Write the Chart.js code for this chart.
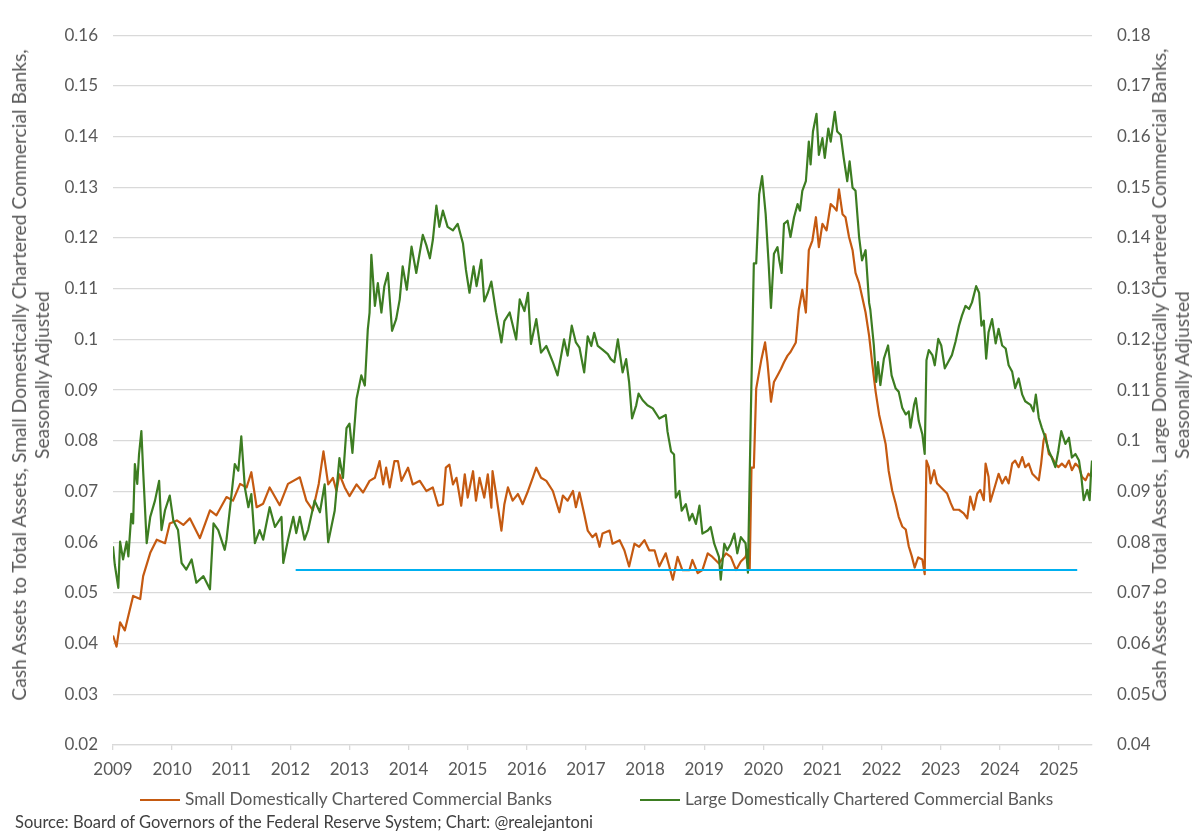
<!DOCTYPE html>
<html>
<head>
<meta charset="utf-8">
<script src="https://cdn.jsdelivr.net/npm/chart.js@4.4.1/dist/chart.umd.min.js"></script>
<style>
  html, body { margin: 0; padding: 0; background: #fff; }
  #wrap { position: relative; width: 1200px; height: 839px; font-family: Lato, "Noto Sans", sans-serif; color: #595959; }
  #c { position: absolute; left: 0; top: 0; }
  .ytitle { position: absolute; transform: translate(-50%, -50%) rotate(-90deg); white-space: nowrap; text-align: center; font-size: 19.3px; line-height: 23px; }
  .leg { position: absolute; top: 789px; height: 20px; font-size: 17.3px; line-height: 20px; white-space: nowrap; }
  .leg i { display: inline-block; width: 40px; height: 2px; vertical-align: middle; margin-right: 5px; position: relative; top: -1px; }
  #src { position: absolute; left: 15px; top: 812px; font-size: 16.5px; line-height: 20px; white-space: nowrap; color: #404040; }
</style>
</head>
<body>
<div id="wrap">
  <canvas id="c" width="1200" height="839"></canvas>
  <div class="ytitle" style="left:29.5px; top:375px;">Cash Assets to Total Assets, Small Domestically Chartered Commercial Banks,<br>Seasonally Adjusted</div>
  <div class="ytitle" style="left:1169.5px; top:375px;">Cash Assets to Total Assets, Large Domestically Chartered Commercial Banks,<br>Seasonally Adjusted</div>
  <div class="leg" style="left:140px;"><i style="background:#C55A11"></i>Small Domestically Chartered Commercial Banks</div>
  <div class="leg" style="left:640px;"><i style="background:#3D7D22"></i>Large Domestically Chartered Commercial Banks</div>
  <div id="src">Source: Board of Governors of the Federal Reserve System; Chart: @realejantoni</div>
</div>
<script>
// ----- data (x = decimal year) -----
const yearTicks = [2009, 2010, 2011, 2012, 2013, 2014, 2015, 2016, 2017, 2018, 2019, 2020, 2021, 2022, 2023, 2024, 2025];

// small domestically chartered banks, left axis
const smallBanks = [
  [2009.00,0.0416],[2009.06,0.0394],[2009.12,0.0442],[2009.20,0.0426],[2009.34,0.0494],[2009.46,0.0488],
  [2009.51,0.0533],[2009.63,0.0579],[2009.74,0.0605],[2009.88,0.0598],[2009.96,0.0637],[2010.08,0.0643],
  [2010.19,0.0634],[2010.30,0.0647],[2010.47,0.0608],[2010.64,0.0663],[2010.75,0.0653],[2010.92,0.0689],
  [2011.03,0.0682],[2011.15,0.0715],[2011.26,0.0708],[2011.34,0.0738],[2011.43,0.0669],[2011.54,0.0676],
  [2011.65,0.0708],[2011.82,0.0673],[2011.96,0.0715],[2012.16,0.0728],[2012.27,0.0682],[2012.38,0.0663],
  [2012.48,0.0715],[2012.56,0.0779],[2012.64,0.0714],[2012.72,0.0727],[2012.78,0.0701],[2012.83,0.0734],
  [2012.92,0.0708],[2013.00,0.0691],[2013.12,0.0714],[2013.23,0.0698],[2013.34,0.0721],[2013.43,0.0727],
  [2013.51,0.0760],[2013.57,0.0714],[2013.62,0.0747],[2013.68,0.0708],[2013.76,0.0760],[2013.82,0.0760],
  [2013.88,0.0721],[2013.99,0.0747],[2014.07,0.0714],[2014.19,0.0721],[2014.30,0.0701],[2014.41,0.0708],
  [2014.50,0.0672],[2014.58,0.0675],[2014.63,0.0747],[2014.69,0.0753],[2014.75,0.0714],[2014.81,0.0727],
  [2014.89,0.0672],[2014.95,0.0734],[2015.00,0.0688],[2015.09,0.0740],[2015.14,0.0682],[2015.20,0.0727],
  [2015.28,0.0688],[2015.34,0.0734],[2015.40,0.0668],[2015.42,0.0740],[2015.48,0.0695],[2015.57,0.0623],
  [2015.62,0.0675],[2015.68,0.0708],[2015.76,0.0682],[2015.85,0.0695],[2015.93,0.0675],[2016.02,0.0701],
  [2016.10,0.0727],[2016.16,0.0747],[2016.24,0.0727],[2016.33,0.0721],[2016.44,0.0701],[2016.55,0.0659],
  [2016.61,0.0692],[2016.69,0.0682],[2016.78,0.0701],[2016.83,0.0669],[2016.89,0.0698],[2016.97,0.0656],
  [2017.03,0.0623],[2017.11,0.0610],[2017.17,0.0617],[2017.23,0.0591],[2017.28,0.0617],[2017.40,0.0623],
  [2017.45,0.0597],[2017.57,0.0604],[2017.65,0.0584],[2017.73,0.0552],[2017.82,0.0597],[2017.90,0.0591],
  [2017.99,0.0604],[2018.07,0.0584],[2018.16,0.0584],[2018.24,0.0552],[2018.35,0.0578],[2018.47,0.0526],
  [2018.55,0.0571],[2018.63,0.0545],[2018.75,0.0545],[2018.80,0.0565],[2018.89,0.0539],[2018.97,0.0545],
  [2019.06,0.0578],[2019.14,0.0571],[2019.25,0.0558],[2019.37,0.0578],[2019.45,0.0571],[2019.54,0.0545],
  [2019.62,0.0562],[2019.70,0.0571],[2019.73,0.0585],[2019.77,0.0546],[2019.80,0.0747],[2019.84,0.0747],
  [2019.88,0.0903],[2019.93,0.0936],[2019.97,0.0962],[2020.03,0.0994],[2020.07,0.0955],[2020.13,0.0877],
  [2020.18,0.0916],[2020.24,0.0929],[2020.30,0.0942],[2020.35,0.0955],[2020.41,0.0968],[2020.46,0.0975],
  [2020.55,0.0994],[2020.60,0.1059],[2020.66,0.1098],[2020.72,0.1053],[2020.77,0.1176],[2020.83,0.1195],
  [2020.89,0.1241],[2020.94,0.1182],[2021.00,0.1228],[2021.07,0.1215],[2021.14,0.1267],[2021.20,0.1260],
  [2021.24,0.1254],[2021.28,0.1296],[2021.34,0.1247],[2021.39,0.1241],[2021.45,0.1202],[2021.51,0.1176],
  [2021.56,0.1131],[2021.62,0.1111],[2021.67,0.1085],[2021.73,0.1053],[2021.79,0.1007],[2021.84,0.0955],
  [2021.90,0.0897],[2021.96,0.0851],[2022.01,0.0825],[2022.07,0.0793],[2022.12,0.0741],[2022.18,0.0702],
  [2022.24,0.0676],[2022.29,0.0650],[2022.35,0.0631],[2022.41,0.0625],[2022.46,0.0592],[2022.51,0.0573],
  [2022.56,0.0550],[2022.62,0.0570],[2022.69,0.0566],[2022.73,0.0537],[2022.76,0.0761],[2022.80,0.0748],
  [2022.83,0.0716],[2022.89,0.0742],[2022.94,0.0716],[2023.00,0.0709],[2023.05,0.0703],[2023.11,0.0696],
  [2023.17,0.0677],[2023.22,0.0664],[2023.31,0.0664],[2023.39,0.0657],[2023.45,0.0647],[2023.50,0.0690],
  [2023.56,0.0664],[2023.62,0.0696],[2023.67,0.0703],[2023.73,0.0683],[2023.76,0.0755],[2023.81,0.0729],
  [2023.84,0.0680],[2023.90,0.0703],[2023.98,0.0735],[2024.04,0.0716],[2024.10,0.0729],[2024.15,0.0716],
  [2024.21,0.0755],[2024.26,0.0761],[2024.32,0.0748],[2024.38,0.0768],[2024.43,0.0748],[2024.49,0.0755],
  [2024.55,0.0735],[2024.60,0.0729],[2024.66,0.0722],[2024.70,0.0755],[2024.74,0.0800],[2024.77,0.0813],
  [2024.83,0.0774],[2024.88,0.0768],[2024.94,0.0755],[2024.99,0.0748],[2025.05,0.0755],[2025.11,0.0748],
  [2025.17,0.0761],[2025.22,0.0742],[2025.28,0.0755],[2025.34,0.0748],[2025.39,0.0729],[2025.45,0.0722],
  [2025.50,0.0735],[2025.55,0.0729]
];

// large domestically chartered banks, right axis
const largeBanks = [
  [2009.00,0.0792],[2009.03,0.0756],[2009.09,0.0710],[2009.12,0.0801],[2009.17,0.0766],[2009.23,0.0801],
  [2009.26,0.0772],[2009.31,0.0856],[2009.34,0.0837],[2009.37,0.0954],[2009.41,0.0915],[2009.44,0.0973],
  [2009.48,0.1019],[2009.51,0.0941],[2009.57,0.0798],[2009.63,0.0850],[2009.71,0.0882],[2009.78,0.0921],
  [2009.82,0.0824],[2009.88,0.0863],[2009.96,0.0892],[2010.02,0.0843],[2010.10,0.0824],[2010.16,0.0759],
  [2010.24,0.0746],[2010.33,0.0766],[2010.41,0.0720],[2010.53,0.0733],[2010.64,0.0707],[2010.70,0.0837],
  [2010.78,0.0824],[2010.89,0.0785],[2010.92,0.0805],[2011.00,0.0889],[2011.06,0.0954],[2011.12,0.0941],
  [2011.17,0.1009],[2011.23,0.0908],[2011.29,0.0869],[2011.34,0.0895],[2011.40,0.0798],[2011.48,0.0824],
  [2011.54,0.0805],[2011.65,0.0869],[2011.74,0.0830],[2011.85,0.0850],[2011.88,0.0759],[2011.96,0.0805],
  [2012.05,0.0850],[2012.10,0.0818],[2012.16,0.0850],[2012.24,0.0805],[2012.30,0.0824],[2012.41,0.0882],
  [2012.50,0.0859],[2012.58,0.0914],[2012.64,0.0800],[2012.75,0.0862],[2012.83,0.0966],[2012.89,0.0927],
  [2012.95,0.1025],[2013.00,0.1034],[2013.05,0.0976],[2013.12,0.1083],[2013.20,0.1129],[2013.26,0.1109],
  [2013.31,0.1220],[2013.34,0.1253],[2013.37,0.1367],[2013.43,0.1266],[2013.48,0.1311],[2013.54,0.1253],
  [2013.59,0.1305],[2013.65,0.1331],[2013.72,0.1217],[2013.79,0.1240],[2013.85,0.1279],[2013.90,0.1344],
  [2013.97,0.1298],[2014.05,0.1383],[2014.13,0.1331],[2014.24,0.1406],[2014.30,0.1386],[2014.36,0.1360],
  [2014.41,0.1396],[2014.47,0.1464],[2014.52,0.1422],[2014.58,0.1454],[2014.66,0.1422],[2014.75,0.1415],
  [2014.83,0.1428],[2014.92,0.1389],[2014.97,0.1337],[2015.03,0.1292],[2015.10,0.1344],[2015.15,0.1305],
  [2015.23,0.1357],[2015.28,0.1275],[2015.34,0.1292],[2015.40,0.1314],[2015.48,0.1253],[2015.57,0.1194],
  [2015.62,0.1236],[2015.71,0.1253],[2015.82,0.1200],[2015.88,0.1279],[2015.96,0.1256],[2016.02,0.1292],
  [2016.07,0.1191],[2016.16,0.1240],[2016.24,0.1174],[2016.33,0.1187],[2016.44,0.1155],[2016.52,0.1129],
  [2016.63,0.1200],[2016.69,0.1168],[2016.76,0.1227],[2016.83,0.1194],[2016.89,0.1184],[2016.97,0.1135],
  [2017.03,0.1206],[2017.09,0.1187],[2017.14,0.1213],[2017.20,0.1187],[2017.28,0.1180],[2017.37,0.1171],
  [2017.42,0.1161],[2017.48,0.1155],[2017.54,0.1200],[2017.62,0.1135],[2017.68,0.1161],[2017.73,0.1116],
  [2017.78,0.1044],[2017.85,0.1070],[2017.89,0.1093],[2017.96,0.1080],[2018.04,0.1070],[2018.13,0.1064],
  [2018.24,0.1044],[2018.35,0.1051],[2018.38,0.1018],[2018.44,0.0979],[2018.49,0.0973],[2018.52,0.0888],
  [2018.58,0.0901],[2018.62,0.0862],[2018.69,0.0875],[2018.75,0.0843],[2018.80,0.0856],[2018.86,0.0836],
  [2018.92,0.0872],[2018.97,0.0817],[2019.06,0.0823],[2019.11,0.0830],[2019.17,0.0797],[2019.25,0.0771],
  [2019.28,0.0726],[2019.34,0.0797],[2019.39,0.0784],[2019.45,0.0797],[2019.51,0.0817],[2019.56,0.0778],
  [2019.62,0.0810],[2019.70,0.0798],[2019.74,0.0740],[2019.79,0.1058],[2019.84,0.1350],[2019.88,0.1350],
  [2019.93,0.1486],[2019.98,0.1522],[2020.04,0.1447],[2020.09,0.1350],[2020.13,0.1262],[2020.18,0.1369],
  [2020.24,0.1382],[2020.27,0.1356],[2020.31,0.1331],[2020.35,0.1428],[2020.41,0.1434],[2020.46,0.1402],
  [2020.52,0.1441],[2020.58,0.1467],[2020.62,0.1454],[2020.66,0.1493],[2020.72,0.1512],[2020.77,0.1590],
  [2020.80,0.1545],[2020.84,0.1610],[2020.90,0.1645],[2020.94,0.1564],[2021.00,0.1597],[2021.04,0.1558],
  [2021.10,0.1616],[2021.14,0.1590],[2021.21,0.1649],[2021.25,0.1610],[2021.31,0.1603],[2021.36,0.1558],
  [2021.42,0.1512],[2021.46,0.1551],[2021.51,0.1499],[2021.56,0.1493],[2021.62,0.1402],[2021.67,0.1356],
  [2021.73,0.1376],[2021.79,0.1272],[2021.81,0.1259],[2021.87,0.1188],[2021.91,0.1116],[2021.94,0.1155],
  [2021.98,0.1110],[2022.04,0.1162],[2022.11,0.1188],[2022.17,0.1129],[2022.24,0.1103],[2022.29,0.1097],
  [2022.35,0.1065],[2022.41,0.1052],[2022.46,0.1058],[2022.49,0.1026],[2022.55,0.1071],[2022.58,0.1084],
  [2022.63,0.1039],[2022.69,0.1013],[2022.73,0.0974],[2022.76,0.1159],[2022.80,0.1179],[2022.86,0.1169],
  [2022.90,0.1149],[2022.96,0.1201],[2023.01,0.1188],[2023.07,0.1143],[2023.13,0.1156],[2023.19,0.1169],
  [2023.25,0.1195],[2023.31,0.1227],[2023.36,0.1247],[2023.42,0.1266],[2023.48,0.1260],[2023.53,0.1273],
  [2023.60,0.1305],[2023.65,0.1292],[2023.69,0.1227],[2023.73,0.1237],[2023.77,0.1162],[2023.81,0.1214],
  [2023.87,0.1240],[2023.93,0.1192],[2023.98,0.1221],[2024.04,0.1188],[2024.10,0.1182],[2024.15,0.1149],
  [2024.21,0.1136],[2024.26,0.1104],[2024.32,0.1123],[2024.38,0.1091],[2024.43,0.1078],[2024.52,0.1071],
  [2024.57,0.1058],[2024.61,0.1091],[2024.66,0.1045],[2024.71,0.1026],[2024.77,0.1006],[2024.83,0.0980],
  [2024.88,0.0967],[2024.94,0.0948],[2024.99,0.0980],[2025.04,0.1019],[2025.11,0.0994],[2025.17,0.1006],
  [2025.22,0.0967],[2025.28,0.0974],[2025.34,0.0961],[2025.38,0.0929],[2025.42,0.0883],[2025.48,0.0903],
  [2025.52,0.0883],[2025.54,0.0929],[2025.56,0.0961]
];

// horizontal reference line, left axis
const refLine = [[2012.09,0.0545],[2025.31,0.0545]];

const TICK_FONT = {family: 'Lato, "Noto Sans", sans-serif', size: 17};
const GREY = '#595959';
const GRID = '#d9d9d9';
const pts = arr => arr.map(([x, y]) => ({x, y}));
const fmt = v => String(Number(v.toFixed(2)));

new Chart(document.getElementById('c'), {
  type: 'line',
  data: {
    datasets: [
      {label: 'ref', data: pts(refLine), borderColor: '#00B0F0', borderWidth: 2, yAxisID: 'yL', order: 0},
      {label: 'Large Domestically Chartered Commercial Banks', data: pts(largeBanks), borderColor: '#3D7D22', borderWidth: 2.2, yAxisID: 'yR', order: 1},
      {label: 'Small Domestically Chartered Commercial Banks', data: pts(smallBanks), borderColor: '#C55A11', borderWidth: 2.2, yAxisID: 'yL', order: 2},
    ]
  },
  options: {
    responsive: false,
    animation: false,
    layout: {padding: {top: 26, bottom: 54, left: 0, right: 0}},
    elements: {point: {radius: 0}, line: {tension: 0, borderJoinStyle: 'round', fill: false}},
    plugins: {legend: {display: false}, tooltip: {enabled: false}},
    scales: {
      x: {
        type: 'linear', min: 2009, max: 2025.56,
        afterBuildTicks: s => { s.ticks = yearTicks.map(v => ({value: v})); },
        afterFit: s => { s.height = 40; },
        ticks: {callback: v => String(v), font: TICK_FONT, color: GREY, padding: 9, maxRotation: 0, autoSkip: false},
        grid: {drawOnChartArea: false, drawTicks: true, tickLength: 5, color: GRID, lineWidth: 1.3},
        border: {color: GRID, width: 1.3}
      },
      yL: {
        position: 'left', min: 0.02, max: 0.16,
        afterFit: s => { s.width = 113; },
        ticks: {stepSize: 0.01, callback: fmt, font: TICK_FONT, color: GREY, padding: 15},
        grid: {color: GRID, lineWidth: 1.3, drawTicks: false},
        border: {display: false}
      },
      yR: {
        position: 'right', min: 0.04, max: 0.18,
        afterFit: s => { s.width = 108; },
        ticks: {stepSize: 0.01, callback: fmt, font: TICK_FONT, color: GREY, padding: 25},
        grid: {drawOnChartArea: false, drawTicks: false},
        border: {display: false}
      }
    }
  }
});
</script>
</body>
</html>
